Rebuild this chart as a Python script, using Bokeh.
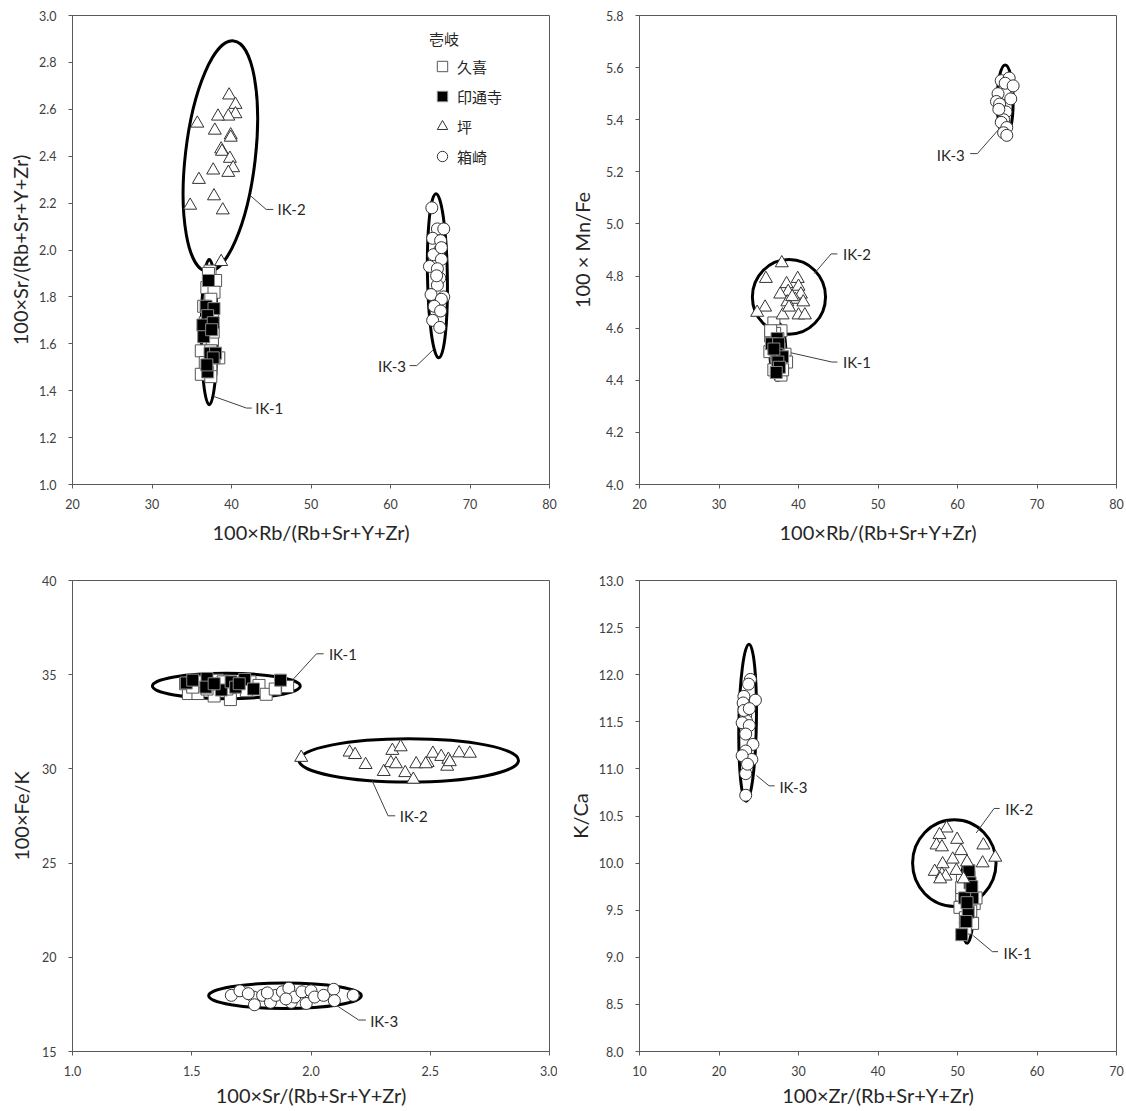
import math
from bokeh.plotting import figure
from bokeh.layouts import gridplot
from bokeh.models import FixedTicker, NumeralTickFormatter, Legend, LegendItem
from bokeh.core.properties import value
from bokeh.embed import file_html
from bokeh.resources import INLINE

# ---------------- data ----------------
group_names = ["久喜", "印通寺", "坪", "箱崎"]
legend_title = "壱岐"
cluster_labels = ["IK-1", "IK-2", "IK-3"]

# Panel 1: x = 100×Rb/(Rb+Sr+Y+Zr), y = 100×Sr/(Rb+Sr+Y+Zr)
p1_kuki_x = [37.3, 38.0, 36.9, 37.8, 37.4, 36.5, 37.6, 36.7, 37.4, 37.6, 36.2, 37.4, 38.4, 36.7, 37.4, 36.2, 37.4, 37.8, 37.1, 37.7]
p1_kuki_y = [1.91, 1.87, 1.84, 1.82, 1.79, 1.76, 1.73, 1.69, 1.66, 1.62, 1.57, 1.57, 1.54, 1.52, 1.49, 1.47, 1.46, 1.54, 1.90, 1.65]
p1_intsuji_x = [37.1, 36.8, 37.8, 37.0, 37.4, 36.4, 37.7, 36.5, 37.3, 38.0, 37.7, 37.0, 36.9, 37.5]
p1_intsuji_y = [1.87, 1.76, 1.75, 1.72, 1.68, 1.68, 1.69, 1.63, 1.56, 1.56, 1.54, 1.48, 1.51, 1.66]
p1_tsubo_x = [39.7, 40.5, 40.5, 39.6, 38.3, 35.7, 37.9, 39.9, 39.9, 38.7, 38.8, 39.8, 40.2, 39.6, 37.7, 35.9, 37.8, 38.9, 34.8, 38.7]
p1_tsubo_y = [2.66, 2.62, 2.58, 2.57, 2.57, 2.54, 2.51, 2.49, 2.48, 2.43, 2.42, 2.39, 2.35, 2.33, 2.34, 2.30, 2.23, 2.17, 2.19, 1.95]
p1_hakozaki_x = [65.2, 65.9, 66.7, 65.3, 66.3, 66.2, 65.4, 66.4, 64.9, 65.9, 66.2, 65.9, 66.7, 65.1, 66.4, 65.5, 66.3, 65.3, 66.2, 66.4, 65.8]
p1_hakozaki_y = [2.18, 2.09, 2.09, 2.05, 2.04, 2.00, 1.98, 1.96, 1.93, 1.92, 1.88, 1.85, 1.80, 1.81, 1.79, 1.76, 1.74, 1.70, 1.67, 2.01, 1.89]

# Panel 2: x = 100×Rb/(Rb+Sr+Y+Zr), y = 100×Mn/Fe
p2_kuki_x = [36.9, 37.8, 36.5, 37.4, 36.6, 37.6, 36.4, 38.3, 38.5, 37.3, 36.9, 37.8, 38.0, 37.2, 37.0, 36.5]
p2_kuki_y = [4.62, 4.59, 4.57, 4.56, 4.54, 4.52, 4.51, 4.50, 4.47, 4.46, 4.44, 4.42, 4.44, 4.49, 4.58, 4.59]
p2_intsuji_x = [37.3, 36.6, 37.5, 37.3, 38.0, 37.4, 37.6, 37.2, 36.9]
p2_intsuji_y = [4.56, 4.54, 4.54, 4.50, 4.49, 4.47, 4.45, 4.43, 4.52]
p2_tsubo_x = [37.9, 35.9, 39.9, 38.5, 40.0, 38.7, 37.7, 40.3, 39.6, 40.6, 38.6, 35.8, 34.8, 38.0, 40.0, 40.8, 39.2, 38.8]
p2_tsubo_y = [4.85, 4.79, 4.79, 4.77, 4.76, 4.74, 4.73, 4.73, 4.71, 4.70, 4.70, 4.68, 4.66, 4.65, 4.65, 4.65, 4.72, 4.68]
p2_hakozaki_x = [65.5, 66.5, 66.0, 65.1, 66.7, 64.9, 65.3, 66.1, 65.8, 65.5, 66.2, 65.8, 66.2, 66.5, 66.0, 67.0, 65.2]
p2_hakozaki_y = [5.55, 5.52, 5.50, 5.50, 5.48, 5.47, 5.46, 5.43, 5.40, 5.39, 5.37, 5.35, 5.34, 5.56, 5.54, 5.53, 5.44]

# Panel 3: x = 100×Sr/(Rb+Sr+Y+Zr), y = 100×Fe/K
p3_kuki_x = [1.486, 1.526, 1.594, 1.662, 1.474, 1.541, 1.609, 1.684, 1.744, 1.782, 1.812, 1.850, 1.902, 1.564, 1.647, 1.729, 1.632, 1.504]
p3_kuki_y = [34.00, 34.00, 33.87, 33.68, 34.52, 34.62, 34.71, 34.43, 34.62, 34.43, 33.96, 34.24, 34.37, 34.24, 34.24, 34.15, 34.62, 34.34]
p3_intsuji_x = [1.477, 1.504, 1.564, 1.559, 1.624, 1.665, 1.684, 1.722, 1.759, 1.872, 1.594, 1.699]
p3_intsuji_y = [34.56, 34.71, 34.80, 34.34, 34.19, 34.62, 34.34, 34.75, 34.24, 34.71, 34.52, 34.52]
p3_tsubo_x = [1.959, 2.162, 2.185, 2.229, 2.305, 2.341, 2.376, 2.335, 2.356, 2.395, 2.429, 2.441, 2.489, 2.511, 2.546, 2.576, 2.571, 2.621, 2.666, 2.481, 2.582]
p3_tsubo_y = [30.60, 30.88, 30.75, 30.22, 29.85, 30.97, 31.16, 30.32, 30.26, 29.79, 29.44, 30.26, 30.32, 30.82, 30.65, 30.50, 30.13, 30.84, 30.82, 30.26, 30.37]
p3_hakozaki_x = [1.666, 1.702, 1.759, 1.763, 1.797, 1.830, 1.853, 1.880, 1.907, 1.917, 1.932, 1.962, 1.980, 2.000, 2.015, 2.053, 2.095, 2.098, 2.177, 1.737, 1.817, 1.895]
p3_hakozaki_y = [17.98, 18.22, 17.89, 17.48, 17.98, 17.61, 17.98, 18.17, 18.36, 17.61, 17.89, 18.17, 17.55, 18.22, 17.89, 17.98, 18.30, 17.70, 17.98, 18.07, 18.11, 17.79]

# Panel 4: x = 100×Zr/(Rb+Sr+Y+Zr), y = K/Ca
p4_kuki_x = [50.62, 51.21, 50.53, 51.67, 50.99, 52.10, 50.31, 51.67, 50.99, 51.90, 50.99, 51.44, 50.53, 52.33]
p4_kuki_y = [9.83, 9.78, 9.66, 9.68, 9.61, 9.57, 9.53, 9.49, 9.42, 9.36, 9.31, 9.85, 9.74, 9.63]
p4_intsuji_x = [51.44, 51.58, 51.90, 50.90, 51.35, 51.08, 50.53, 51.80, 51.20]
p4_intsuji_y = [9.92, 9.79, 9.63, 9.63, 9.48, 9.38, 9.24, 9.75, 9.58]
p4_tsubo_x = [48.63, 47.73, 47.36, 48.04, 49.95, 50.44, 53.25, 54.75, 49.40, 48.13, 51.20, 53.16, 47.13, 48.04, 48.50, 49.86, 50.77, 47.82]
p4_tsubo_y = [10.37, 10.30, 10.19, 10.17, 10.25, 10.13, 10.19, 10.06, 10.04, 9.99, 10.01, 10.00, 9.91, 9.88, 9.86, 9.92, 9.83, 9.83]
p4_hakozaki_x = [23.95, 23.72, 23.13, 24.58, 23.04, 23.36, 23.45, 22.91, 23.81, 23.36, 24.27, 23.36, 24.13, 22.91, 23.36, 23.36, 23.13, 23.81, 23.59]
p4_hakozaki_y = [11.95, 11.90, 11.77, 11.73, 11.70, 11.57, 11.51, 11.49, 11.46, 11.37, 11.26, 11.19, 11.10, 11.14, 10.95, 10.72, 11.62, 11.64, 11.05]

# Cluster ellipses (IK-1, IK-2, IK-3): centre, full width/height in data units, tilt in degrees
p1_ell_cx = [37.2, 38.6, 65.9]
p1_ell_cy = [1.65, 2.40, 1.89]
p1_ell_w = [2.0, 8.8, 2.5]
p1_ell_h = [0.62, 0.99, 0.70]
p1_ell_tilt = [0.0, -6.6, 1.0]

p2_ell_cx = [37.4, 38.8, 66.0]
p2_ell_cy = [4.51, 4.72, 5.47]
p2_ell_w = [2.0, 9.2, 2.0]
p2_ell_h = [0.22, 0.287, 0.28]
p2_ell_tilt = [0.0, 0.0, 0.0]

p3_ell_cx = [1.645, 2.41, 1.891]
p3_ell_cy = [34.40, 30.45, 17.96]
p3_ell_w = [0.62, 0.92, 0.64]
p3_ell_h = [1.35, 2.30, 1.35]
p3_ell_tilt = [0.0, 0.0, 0.0]

p4_ell_cx = [51.2, 49.6, 23.6]
p4_ell_cy = [9.60, 10.00, 11.49]
p4_ell_w = [1.7, 10.5, 2.2]
p4_ell_h = [0.90, 0.92, 1.67]
p4_ell_tilt = [0.0, 0.0, -1.0]

# Leader lines (IK-1, IK-2, IK-3) and label anchors
p1_lead_xs = [[37.73, 41.88, 42.55], [42.33, 44.36, 45.26], [65.33, 63.3, 62.4]]
p1_lead_ys = [[1.376, 1.326, 1.326], [2.233, 2.173, 2.173], [1.573, 1.507, 1.507]]
p1_lab_x = [43.0, 45.8, 61.95]
p1_lab_y = [1.326, 2.173, 1.505]
p1_lab_align = ["left", "left", "right"]

p2_lead_xs = [[38.4, 44.2, 44.9], [42.0, 44.1, 44.9], [65.1, 62.5, 61.6]]
p2_lead_ys = [[4.51, 4.47, 4.47], [4.81, 4.885, 4.885], [5.36, 5.27, 5.27]]
p2_lab_x = [45.6, 45.6, 60.9]
p2_lab_y = [4.47, 4.885, 5.265]
p2_lab_align = ["left", "left", "right"]

p3_lead_xs = [[1.922, 2.023, 2.053], [2.256, 2.323, 2.353], [2.11, 2.20, 2.23]]
p3_lead_ys = [[34.71, 36.11, 36.11], [29.38, 27.51, 27.51], [17.42, 16.67, 16.67]]
p3_lab_x = [2.075, 2.372, 2.248]
p3_lab_y = [36.08, 27.49, 16.62]
p3_lab_align = ["left", "left", "left"]

p4_lead_xs = [[51.98, 54.38, 55.1], [52.35, 54.6, 55.3], [24.72, 26.3, 27.0]]
p4_lead_ys = [[9.23, 9.06, 9.06], [10.32, 10.58, 10.58], [10.93, 10.82, 10.82]]
p4_lab_x = [55.8, 56.0, 27.6]
p4_lab_y = [9.05, 10.57, 10.81]
p4_lab_align = ["left", "left", "left"]

# ---------------- styling ----------------
AX = "#595959"
TXT = "#262626"
styles = {
    "久喜": dict(marker="square", size=12, fill_color="white", line_color="#555555", line_width=1),
    "印通寺": dict(marker="square", size=12, fill_color="black", line_color="#8a8a8a", line_width=1),
    "坪": dict(marker="triangle", size=13, fill_color="white", line_color="#333333", line_width=1),
    "箱崎": dict(marker="circle", size=12, fill_color="white", line_color="#333333", line_width=1),
}


def make_panel(xr, yr, xticks, yticks, xfmt, yfmt, xlabel, ylabel, w, h, borders,
               series, ell, leads, labs, ylab_standoff, xlab_standoff):
    bl, br, bt, bb = borders
    p = figure(width=w, height=h, x_range=xr, y_range=yr, output_backend="svg",
               toolbar_location=None, min_border_left=bl, min_border_right=br,
               min_border_top=bt, min_border_bottom=bb)
    p.xgrid.visible = False
    p.ygrid.visible = False
    p.outline_line_color = AX
    p.outline_line_width = 1
    p.background_fill_color = "white"
    p.border_fill_color = "white"
    p.xaxis.ticker = FixedTicker(ticks=xticks)
    p.yaxis.ticker = FixedTicker(ticks=yticks)
    p.xaxis.formatter = NumeralTickFormatter(format=xfmt)
    p.yaxis.formatter = NumeralTickFormatter(format=yfmt)
    p.xaxis.axis_label = xlabel
    p.yaxis.axis_label = ylabel
    for ax in (p.xaxis[0], p.yaxis[0]):
        ax.axis_line_color = AX
        ax.axis_line_width = 1
        ax.major_tick_line_color = AX
        ax.major_tick_out = 4
        ax.major_tick_in = 0
        ax.minor_tick_line_color = None
        ax.major_label_text_font = "Lato"
        ax.major_label_text_font_size = "12.5px"
        ax.major_label_text_color = "#404040"
        ax.axis_label_text_font = "Lato"
        ax.axis_label_text_font_size = "20px"
        ax.axis_label_text_font_style = "normal"
        ax.axis_label_text_color = TXT
    p.xaxis.major_label_standoff = 10
    p.yaxis.major_label_standoff = 12
    p.yaxis.axis_label_standoff = ylab_standoff
    p.xaxis.axis_label_standoff = xlab_standoff

    cx, cy, ew, eh, tilt = ell
    p.ellipse(x=cx, y=cy, width=ew, height=eh, angle=[math.radians(t) for t in tilt],
              fill_color=None, line_color="black", line_width=3)

    lxs, lys = leads
    p.multi_line(xs=lxs, ys=lys, line_color="#404040", line_width=1)

    lx, ly, la = labs
    for align in ("left", "right"):
        idx = [i for i, a in enumerate(la) if a == align]
        if idx:
            p.text(x=[lx[i] for i in idx], y=[ly[i] for i in idx],
                   text=[cluster_labels[i] for i in idx],
                   text_font=value("Lato"), text_font_size="15px",
                   text_color=TXT, text_align=align, text_baseline="middle")

    rends = []
    for name, (sx, sy) in zip(group_names, series):
        rends.append(p.scatter(x=sx, y=sy, **styles[name]))
    return p, rends


p1, r1 = make_panel((20, 80), (1.0, 3.0), [20, 30, 40, 50, 60, 70, 80],
                    [1.0, 1.2, 1.4, 1.6, 1.8, 2.0, 2.2, 2.4, 2.6, 2.8, 3.0], "0", "0.0",
                    "100×Rb/(Rb+Sr+Y+Zr)", "100×Sr/(Rb+Sr+Y+Zr)", 557, 547, (72, 8, 15, 63),
                    [(p1_kuki_x, p1_kuki_y), (p1_intsuji_x, p1_intsuji_y),
                     (p1_tsubo_x, p1_tsubo_y), (p1_hakozaki_x, p1_hakozaki_y)],
                    (p1_ell_cx, p1_ell_cy, p1_ell_w, p1_ell_h, p1_ell_tilt),
                    (p1_lead_xs, p1_lead_ys), (p1_lab_x, p1_lab_y, p1_lab_align), 4, 8)

p2, r2 = make_panel((20, 80), (4.0, 5.8), [20, 30, 40, 50, 60, 70, 80],
                    [4.0, 4.2, 4.4, 4.6, 4.8, 5.0, 5.2, 5.4, 5.6, 5.8], "0", "0.0",
                    "100×Rb/(Rb+Sr+Y+Zr)", "100 × Mn/Fe", 567, 547, (82, 8, 15, 63),
                    [(p2_kuki_x, p2_kuki_y), (p2_intsuji_x, p2_intsuji_y),
                     (p2_tsubo_x, p2_tsubo_y), (p2_hakozaki_x, p2_hakozaki_y)],
                    (p2_ell_cx, p2_ell_cy, p2_ell_w, p2_ell_h, p2_ell_tilt),
                    (p2_lead_xs, p2_lead_ys), (p2_lab_x, p2_lab_y, p2_lab_align), 9, 8)

p3, r3 = make_panel((1.0, 3.0), (15, 40), [1.0, 1.5, 2.0, 2.5, 3.0],
                    [15, 20, 25, 30, 35, 40], "0.0", "0",
                    "100×Sr/(Rb+Sr+Y+Zr)", "100×Fe/K", 557, 562, (72, 8, 33, 58),
                    [(p3_kuki_x, p3_kuki_y), (p3_intsuji_x, p3_intsuji_y),
                     (p3_tsubo_x, p3_tsubo_y), (p3_hakozaki_x, p3_hakozaki_y)],
                    (p3_ell_cx, p3_ell_cy, p3_ell_w, p3_ell_h, p3_ell_tilt),
                    (p3_lead_xs, p3_lead_ys), (p3_lab_x, p3_lab_y, p3_lab_align), 6, 4)

p4, r4 = make_panel((10, 70), (8.0, 13.0), [10, 20, 30, 40, 50, 60, 70],
                    [8.0, 8.5, 9.0, 9.5, 10.0, 10.5, 11.0, 11.5, 12.0, 12.5, 13.0], "0", "0.0",
                    "100×Zr/(Rb+Sr+Y+Zr)", "K/Ca", 567, 562, (82, 8, 33, 58),
                    [(p4_kuki_x, p4_kuki_y), (p4_intsuji_x, p4_intsuji_y),
                     (p4_tsubo_x, p4_tsubo_y), (p4_hakozaki_x, p4_hakozaki_y)],
                    (p4_ell_cx, p4_ell_cy, p4_ell_w, p4_ell_h, p4_ell_tilt),
                    (p4_lead_xs, p4_lead_ys), (p4_lab_x, p4_lab_y, p4_lab_align), 4, 4)

legend = Legend(items=[LegendItem(label=n, renderers=[r]) for n, r in zip(group_names, r1)],
                location=(357, 315), title=legend_title,
                title_text_font="Noto Sans CJK JP", title_text_font_size="15px",
                title_text_font_style="normal", title_text_color=TXT, title_standoff=4,
                label_text_font="Noto Sans CJK JP", label_text_font_size="15px",
                label_text_color=TXT, label_standoff=2,
                glyph_width=26, glyph_height=26, label_height=26, spacing=4,
                padding=0, margin=0, border_line_color=None, background_fill_alpha=0)
p1.add_layout(legend)

grid = gridplot([[p1, p2], [p3, p4]], toolbar_location=None)
open("out.html", "w").write(file_html(grid, INLINE, title="壱岐"))
